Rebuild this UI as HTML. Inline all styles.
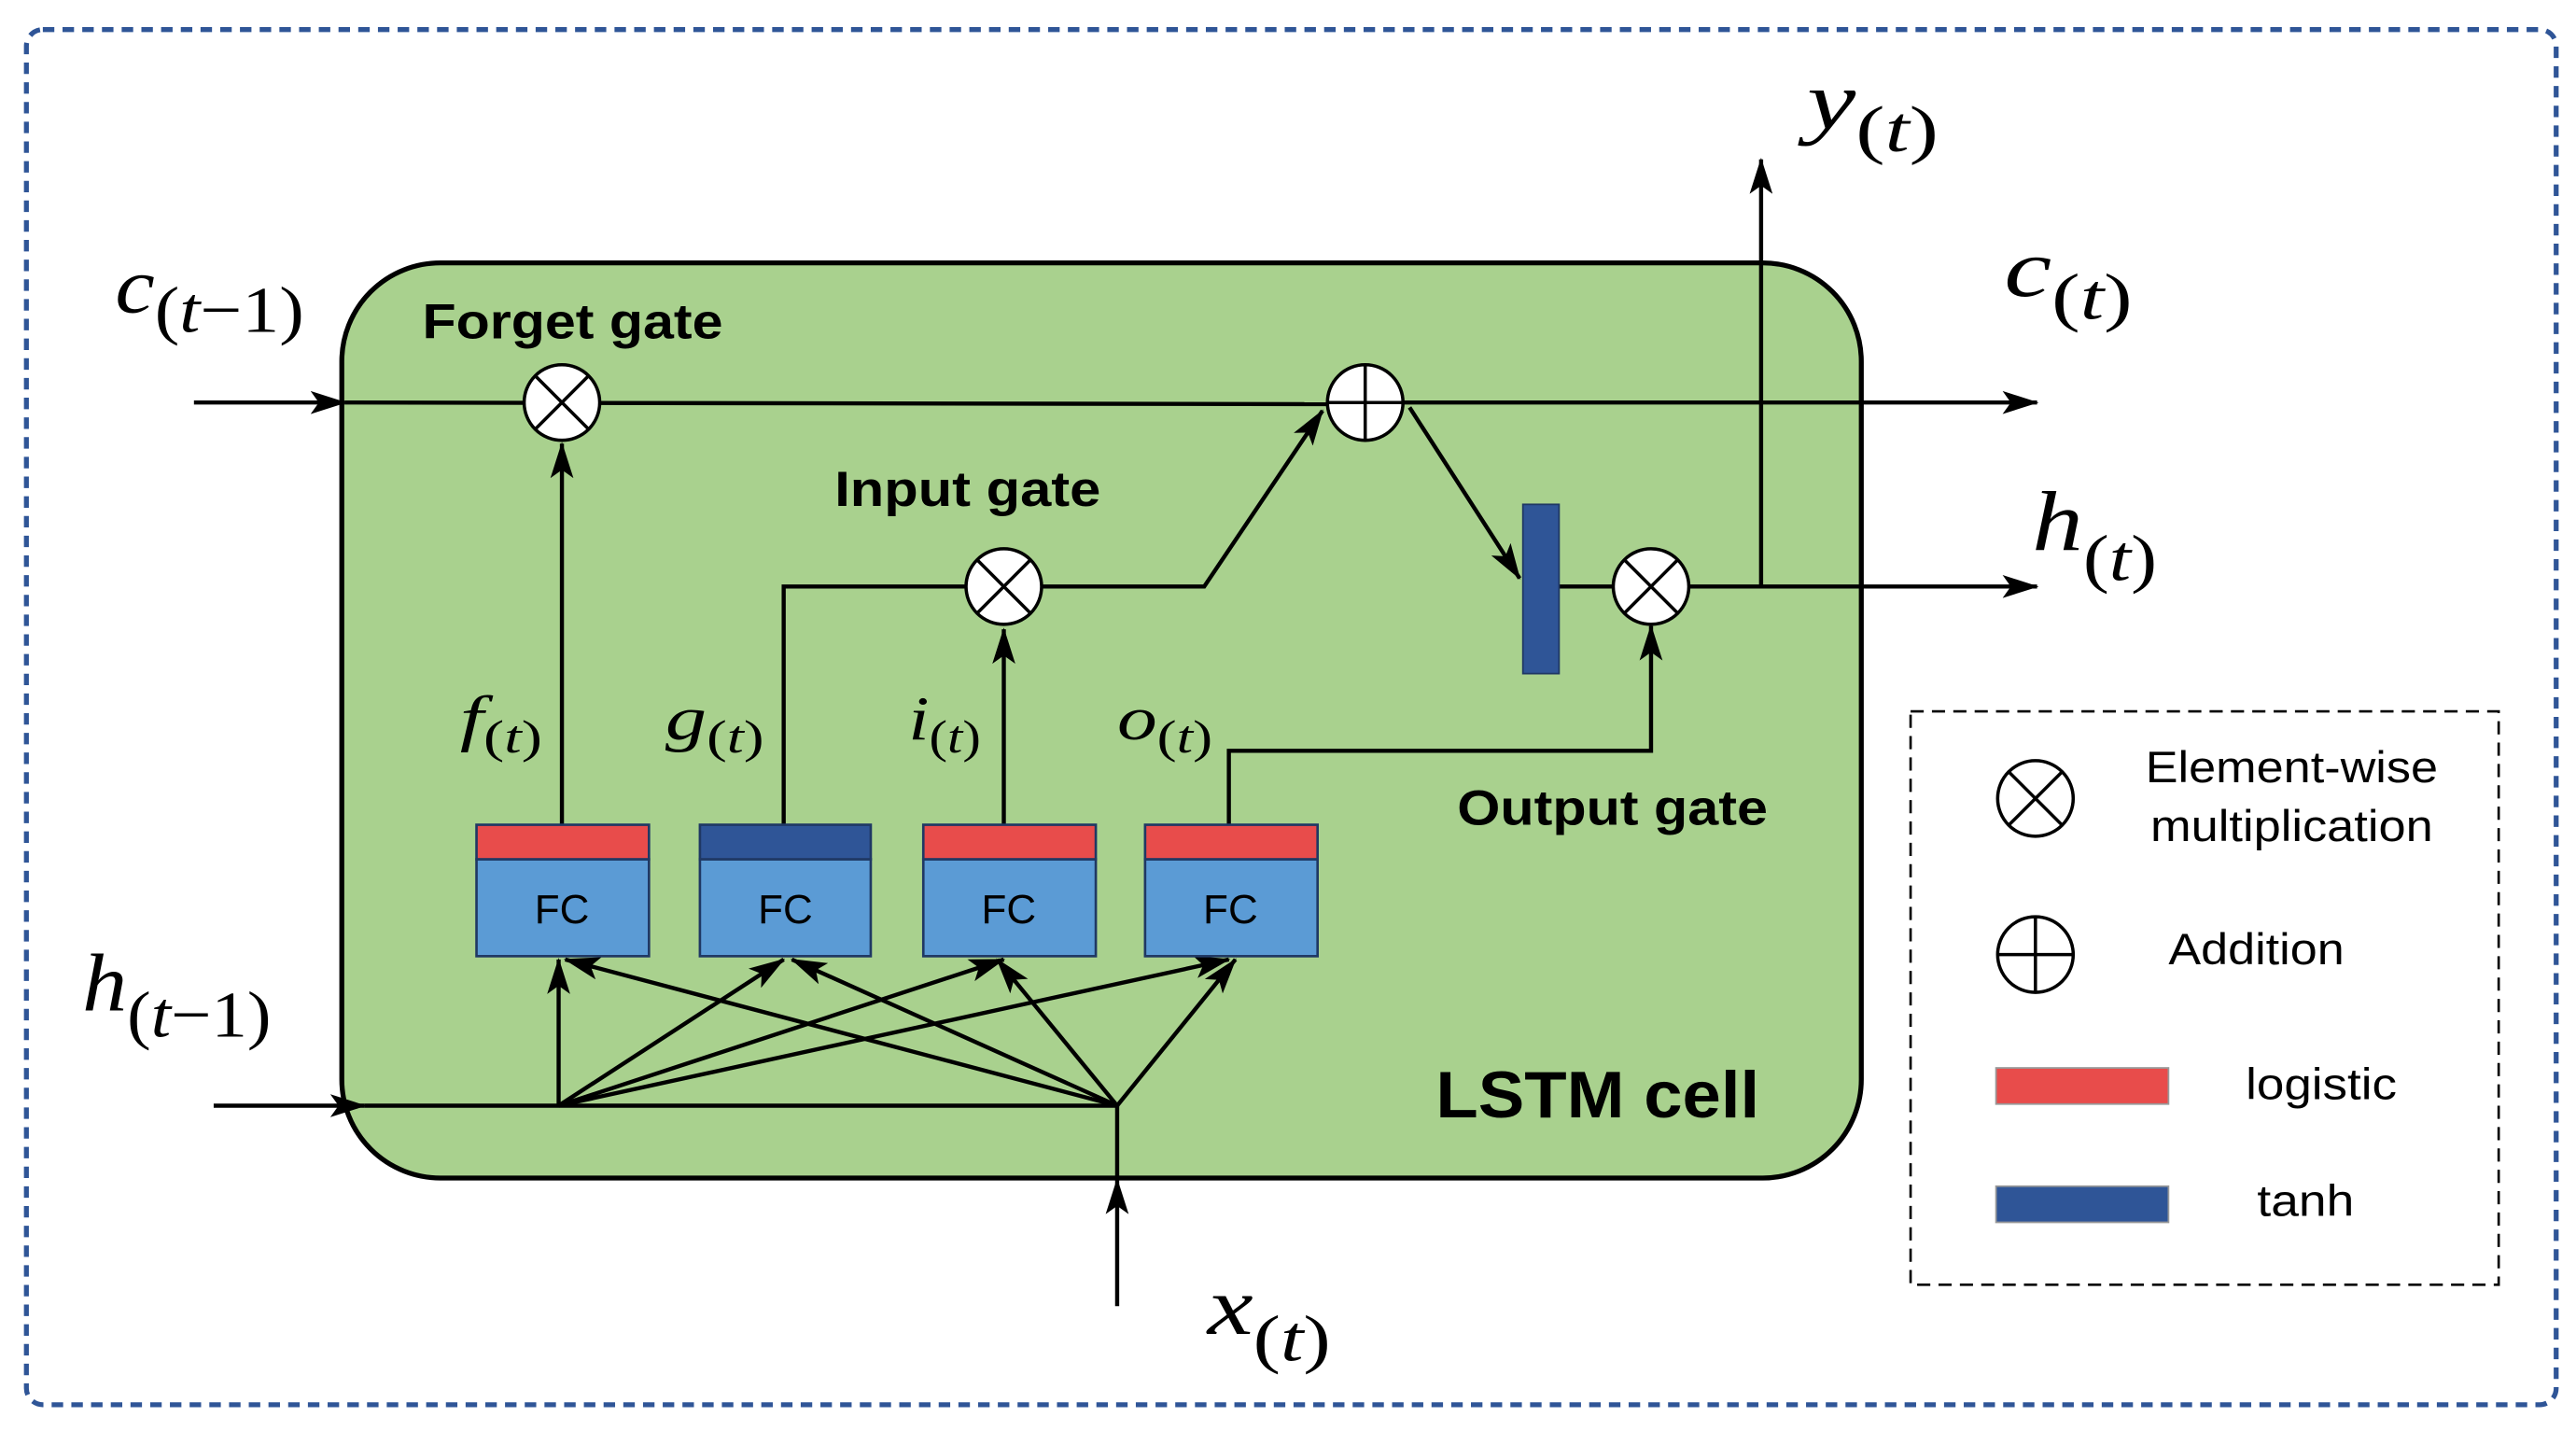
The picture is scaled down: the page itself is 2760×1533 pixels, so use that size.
<!DOCTYPE html>
<html><head><meta charset="utf-8"><style>
html,body{margin:0;padding:0;background:#fff}
svg{display:block}
.m{font-family:"Liberation Serif",serif;font-style:italic}
.s{font-family:"Liberation Serif",serif}
.b{font-family:"Liberation Sans",sans-serif;font-weight:bold}
.n{font-family:"Liberation Sans",sans-serif}
</style></head><body>
<svg width="2760" height="1533" viewBox="0 0 1568 871" xmlns="http://www.w3.org/2000/svg">
<defs>
<marker id="A" markerWidth="22" markerHeight="14" refX="21" refY="7" orient="auto" markerUnits="userSpaceOnUse" viewBox="0 0 22 14">
<path d="M0,0 L22,7 L0,14 L5,7 z" fill="#000"/></marker>
</defs>
<rect x="0" y="0" width="1568" height="871" fill="#fff"/>
<rect x="16" y="18" width="1540" height="837" rx="10" fill="none" stroke="#2F5597" stroke-width="3" stroke-dasharray="7,5"/>
<rect x="208" y="160" width="925" height="557" rx="60" fill="#A9D18E" stroke="#000" stroke-width="3"/>
<g stroke="#000" stroke-width="2.5" fill="none">
<line x1="118" y1="245" x2="210" y2="245" marker-end="url(#A)"/>
<line x1="210" y1="245" x2="808" y2="246"/>
<line x1="854" y1="245" x2="1240" y2="245" marker-end="url(#A)"/>
<line x1="858" y1="248" x2="925" y2="352" marker-end="url(#A)"/>
<line x1="949" y1="357" x2="982" y2="357"/>
<line x1="1028" y1="357" x2="1240" y2="357" marker-end="url(#A)"/>
<line x1="1072" y1="357" x2="1072" y2="97" marker-end="url(#A)"/>
<polyline points="477,502 477,357 588,357"/>
<polyline points="634,357 733,357 805,250" marker-end="url(#A)"/>
<line x1="611" y1="502" x2="611" y2="383" marker-end="url(#A)"/>
<line x1="342" y1="502" x2="342" y2="270" marker-end="url(#A)"/>
<polyline points="748,502 748,457 1005,457 1005,381" marker-end="url(#A)"/>
<line x1="130" y1="673" x2="222" y2="673" marker-end="url(#A)"/>
<line x1="222" y1="673" x2="680" y2="673"/>
<line x1="680" y1="795" x2="680" y2="718" marker-end="url(#A)"/>
<line x1="680" y1="718" x2="680" y2="673"/>
<line x1="340" y1="673" x2="340" y2="584" marker-end="url(#A)"/>
<line x1="340" y1="673" x2="477" y2="584" marker-end="url(#A)"/>
<line x1="340" y1="673" x2="611" y2="584" marker-end="url(#A)"/>
<line x1="340" y1="673" x2="748" y2="584" marker-end="url(#A)"/>
<line x1="680" y1="673" x2="344" y2="584" marker-end="url(#A)"/>
<line x1="680" y1="673" x2="482" y2="584" marker-end="url(#A)"/>
<line x1="680" y1="673" x2="607" y2="584" marker-end="url(#A)"/>
<line x1="680" y1="673" x2="752" y2="584" marker-end="url(#A)"/>
</g>
<g stroke="#000" stroke-width="2" fill="#fff">
<circle cx="342" cy="245" r="23"/><circle cx="611" cy="357" r="23"/><circle cx="1005" cy="357" r="23"/><circle cx="831" cy="245" r="23"/>
<circle cx="1239" cy="486" r="23"/><circle cx="1239" cy="581" r="23"/>
</g>
<g stroke="#000" stroke-width="2">
<path d="M326,229 L358,261 M358,229 L326,261"/>
<path d="M595,341 L627,373 M627,341 L595,373"/>
<path d="M989,341 L1021,373 M1021,341 L989,373"/>
<path d="M1223,470 L1255,502 M1255,470 L1223,502"/>
<path d="M808,245 L854,245 M831,222 L831,268"/>
<path d="M1216,581 L1262,581 M1239,558 L1239,604"/>
</g>
<rect x="927" y="307" width="22" height="103" fill="#2F5597" stroke="#1f3864" stroke-width="1"/>
<g stroke="#1f3864" stroke-width="1.5">
<rect x="290" y="523" width="105" height="59" fill="#5B9BD5"/><rect x="290" y="502" width="105" height="21" fill="#E84C4B"/>
<rect x="426" y="523" width="104" height="59" fill="#5B9BD5"/><rect x="426" y="502" width="104" height="21" fill="#2F5597"/>
<rect x="562" y="523" width="105" height="59" fill="#5B9BD5"/><rect x="562" y="502" width="105" height="21" fill="#E84C4B"/>
<rect x="697" y="523" width="105" height="59" fill="#5B9BD5"/><rect x="697" y="502" width="105" height="21" fill="#E84C4B"/>
</g>
<g class="n" font-size="25" text-anchor="middle" fill="#000">
<text x="342" y="562">FC</text><text x="478" y="562">FC</text><text x="614" y="562">FC</text><text x="749" y="562">FC</text>
</g>
<g class="b" font-size="30" lengthAdjust="spacingAndGlyphs">
<text x="257" y="206" textLength="183" lengthAdjust="spacingAndGlyphs">Forget gate</text>
<text x="508" y="308" textLength="162" lengthAdjust="spacingAndGlyphs">Input gate</text>
<text x="887" y="502" textLength="189" lengthAdjust="spacingAndGlyphs">Output gate</text>
<text x="874" y="680" font-size="40" textLength="197" lengthAdjust="spacingAndGlyphs">LSTM cell</text>
</g>
<g class="m" fill="#000">
<text x="70" y="190" font-size="48" textLength="115" lengthAdjust="spacingAndGlyphs">c<tspan class="s" font-style="normal" font-size="40" dy="12">(</tspan><tspan font-size="40">t</tspan><tspan class="s" font-style="normal" font-size="40">−1)</tspan></text>
<text x="50" y="615" font-size="50" textLength="115" lengthAdjust="spacingAndGlyphs">h<tspan class="s" font-style="normal" font-size="40" dy="16">(</tspan><tspan font-size="40">t</tspan><tspan class="s" font-style="normal" font-size="40">−1)</tspan></text>
<text x="1100" y="78" font-size="50" textLength="80" lengthAdjust="spacingAndGlyphs">y<tspan class="s" font-style="normal" font-size="40" dy="14">(</tspan><tspan font-size="40">t</tspan><tspan class="s" font-style="normal" font-size="40">)</tspan></text>
<text x="1220" y="180" font-size="50" textLength="78" lengthAdjust="spacingAndGlyphs">c<tspan class="s" font-style="normal" font-size="40" dy="14">(</tspan><tspan font-size="40">t</tspan><tspan class="s" font-style="normal" font-size="40">)</tspan></text>
<text x="1237" y="335" font-size="52" textLength="76" lengthAdjust="spacingAndGlyphs">h<tspan class="s" font-style="normal" font-size="40" dy="18">(</tspan><tspan font-size="40">t</tspan><tspan class="s" font-style="normal" font-size="40">)</tspan></text>
<text x="735" y="812" font-size="50" textLength="75" lengthAdjust="spacingAndGlyphs">x<tspan class="s" font-style="normal" font-size="40" dy="16">(</tspan><tspan font-size="40">t</tspan><tspan class="s" font-style="normal" font-size="40">)</tspan></text>
<text x="280" y="450" font-size="38" textLength="50" lengthAdjust="spacingAndGlyphs">f<tspan class="s" font-style="normal" font-size="28" dy="8">(</tspan><tspan font-size="28">t</tspan><tspan class="s" font-style="normal" font-size="28">)</tspan></text>
<text x="405" y="450" font-size="38" textLength="60" lengthAdjust="spacingAndGlyphs">g<tspan class="s" font-style="normal" font-size="28" dy="8">(</tspan><tspan font-size="28">t</tspan><tspan class="s" font-style="normal" font-size="28">)</tspan></text>
<text x="553" y="450" font-size="38" textLength="44" lengthAdjust="spacingAndGlyphs">i<tspan class="s" font-style="normal" font-size="28" dy="8">(</tspan><tspan font-size="28">t</tspan><tspan class="s" font-style="normal" font-size="28">)</tspan></text>
<text x="680" y="450" font-size="38" textLength="58" lengthAdjust="spacingAndGlyphs">o<tspan class="s" font-style="normal" font-size="28" dy="8">(</tspan><tspan font-size="28">t</tspan><tspan class="s" font-style="normal" font-size="28">)</tspan></text>
</g>
<rect x="1163" y="433" width="358" height="349" fill="none" stroke="#000" stroke-width="1.5" stroke-dasharray="8,5"/>
<rect x="1215" y="650" width="105" height="22" fill="#E84C4B" stroke="#999" stroke-width="1"/>
<rect x="1215" y="722" width="105" height="22" fill="#2F5597" stroke="#999" stroke-width="1"/>
<g class="n" font-size="27" fill="#000">
<text x="1306" y="476" textLength="178" lengthAdjust="spacingAndGlyphs">Element-wise</text>
<text x="1309" y="512" textLength="172" lengthAdjust="spacingAndGlyphs">multiplication</text>
<text x="1320" y="587" textLength="107" lengthAdjust="spacingAndGlyphs">Addition</text>
<text x="1367" y="669" textLength="92" lengthAdjust="spacingAndGlyphs">logistic</text>
<text x="1374" y="740" textLength="59" lengthAdjust="spacingAndGlyphs">tanh</text>
</g>
</svg>
</body></html>
